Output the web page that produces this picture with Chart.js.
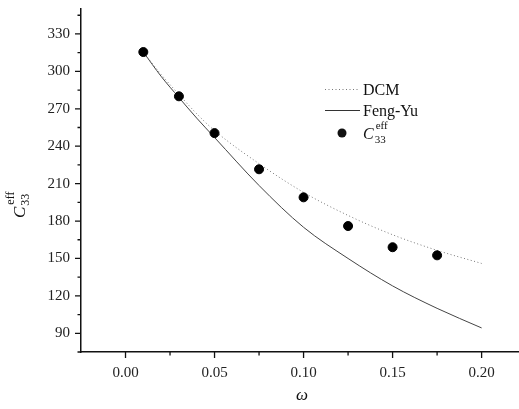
<!DOCTYPE html>
<html>
<head>
<meta charset="utf-8">
<script src="https://cdn.jsdelivr.net/npm/chart.js@4"></script>
<style>
html, body { margin: 0; padding: 0; background: #fff; }
</style>
</head>
<body>
<canvas id="chart" width="519" height="409"></canvas>
<script>
// curve samples (omega) and the two model curves
const omegaLine = [0.01, 0.02, 0.03, 0.04, 0.05, 0.075, 0.10, 0.125, 0.15, 0.175, 0.20];
const dcmValues = [315.5, 297.5, 281.5, 266, 252.5, 226, 203, 184.5, 169, 156.5, 146];
const fengYuValues = [315.5, 296, 279, 262.5, 247, 208.5, 175, 150, 128, 110, 94.3];

// measured C33 eff points
const omegaPoints = [0.01, 0.03, 0.05, 0.075, 0.10, 0.125, 0.15, 0.175];
const c33Values = [315.5, 280, 250.5, 221.5, 199, 176, 159, 152.5];

// tick labels
const xTicks = [0.00, 0.05, 0.10, 0.15, 0.20];
const xMinorTicks = [0.025, 0.075, 0.125, 0.175];
const yTicks = [90, 120, 150, 180, 210, 240, 270, 300, 330];
const yMinorTicks = [75, 105, 135, 165, 195, 225, 255, 285, 315, 345];

const serif = "'Liberation Serif', 'Times New Roman', serif";

function toXY(xs, ys) { // pair up x and y arrays
    return xs.map((x, i) => ({ x: x, y: ys[i] }));
}

// draws the short outward tick marks, major and minor
const tickMarks = {
    id: 'tickMarks',
    afterDraw(chart) {
        const ctx = chart.ctx;
        const xs = chart.scales.x, ys = chart.scales.y;
        const area = chart.chartArea;
        ctx.save();
        ctx.strokeStyle = '#111';
        ctx.lineWidth = 1.3;
        ctx.beginPath();
        xTicks.forEach(v => { const p = xs.getPixelForValue(v); ctx.moveTo(p, area.bottom); ctx.lineTo(p, area.bottom + 6); });
        xMinorTicks.forEach(v => { const p = xs.getPixelForValue(v); ctx.moveTo(p, area.bottom); ctx.lineTo(p, area.bottom + 3.5); });
        yTicks.forEach(v => { const p = ys.getPixelForValue(v); ctx.moveTo(area.left, p); ctx.lineTo(area.left - 6, p); });
        yMinorTicks.forEach(v => { const p = ys.getPixelForValue(v); ctx.moveTo(area.left, p); ctx.lineTo(area.left - 3.5, p); });
        ctx.stroke();
        ctx.restore();
    }
};

// C_33^eff written with subscript and superscript
function drawC33(ctx, x, y, size) {
    ctx.textBaseline = 'alphabetic';
    ctx.textAlign = 'left';
    ctx.font = 'italic ' + size + 'px ' + serif;
    ctx.fillText('C', x, y);
    const w = ctx.measureText('C').width;
    ctx.font = Math.round(size * 0.7) + 'px ' + serif;
    ctx.fillText('33', x + w + 1, y + 4);
    ctx.fillText('eff', x + w + 2, y - size * 0.65);
}

// legend and axis titles
const annotations = {
    id: 'annotations',
    afterDraw(chart) {
        const ctx = chart.ctx;
        ctx.save();
        ctx.fillStyle = '#111';

        // legend
        ctx.strokeStyle = '#777';
        ctx.lineWidth = 1;
        ctx.setLineDash([1, 2.5]);
        ctx.beginPath(); ctx.moveTo(325, 89.5); ctx.lineTo(360, 89.5); ctx.stroke();
        ctx.setLineDash([]);
        ctx.strokeStyle = '#333';
        ctx.beginPath(); ctx.moveTo(325, 110.5); ctx.lineTo(360, 110.5); ctx.stroke();
        ctx.beginPath(); ctx.arc(342, 133, 4.5, 0, Math.PI * 2); ctx.fill();

        ctx.font = '16px ' + serif;
        ctx.textBaseline = 'middle';
        ctx.textAlign = 'left';
        ctx.fillText('DCM', 363, 90.5);
        ctx.fillText('Feng-Yu', 363, 111.5);
        drawC33(ctx, 363, 139, 16);

        // x title
        ctx.font = 'italic 17px ' + serif;
        ctx.textAlign = 'center';
        ctx.textBaseline = 'middle';
        ctx.fillText('\u03c9', 302, 396);

        // y title, rotated
        ctx.translate(25, 218);
        ctx.rotate(-Math.PI / 2);
        drawC33(ctx, 0, 0, 17);
        ctx.restore();
    }
};

new Chart(document.getElementById('chart').getContext('2d'), {
    type: 'scatter',
    data: {
        datasets: [
            {
                label: 'C33eff',
                data: toXY(omegaPoints, c33Values),
                backgroundColor: '#000',
                borderColor: '#000',
                pointRadius: 4.5,
                showLine: false,
                order: 0
            },
            {
                label: 'DCM',
                data: toXY(omegaLine, dcmValues),
                borderColor: '#777',
                borderWidth: 1,
                borderDash: [1, 2.5],
                pointRadius: 0,
                showLine: true,
                cubicInterpolationMode: 'monotone',
                order: 1
            },
            {
                label: 'Feng-Yu',
                data: toXY(omegaLine, fengYuValues),
                borderColor: '#444',
                borderWidth: 1,
                pointRadius: 0,
                showLine: true,
                cubicInterpolationMode: 'monotone',
                order: 2
            }
        ]
    },
    options: {
        responsive: false,
        animation: false,
        layout: { autoPadding: false, padding: { top: 9, right: 0, left: 0, bottom: 0 } },
        plugins: { legend: { display: false }, tooltip: { enabled: false } },
        scales: {
            x: {
                type: 'linear',
                min: -0.025,
                max: 0.221,
                afterBuildTicks: scale => { scale.ticks = xTicks.map(v => ({ value: v })); },
                afterFit: scale => { scale.height = 57; scale.paddingLeft = 0; scale.paddingRight = 0; },
                grid: { display: false, drawTicks: false, tickLength: 0 },
                border: { display: true, color: '#111', width: 1.5 },
                ticks: {
                    padding: 12,
                    color: '#222',
                    font: { family: serif, size: 15 },
                    callback: v => Number(v).toFixed(2)
                }
            },
            y: {
                min: 75,
                max: 350,
                afterBuildTicks: scale => { scale.ticks = yTicks.map(v => ({ value: v })); },
                afterFit: scale => { scale.width = 81; scale.paddingTop = 0; scale.paddingBottom = 0; },
                grid: { display: false, drawTicks: false, tickLength: 0 },
                border: { display: true, color: '#111', width: 1.5 },
                ticks: {
                    padding: 11,
                    color: '#222',
                    font: { family: serif, size: 15 },
                    callback: v => String(v)
                }
            }
        }
    },
    plugins: [tickMarks, annotations]
});
</script>
</body>
</html>
